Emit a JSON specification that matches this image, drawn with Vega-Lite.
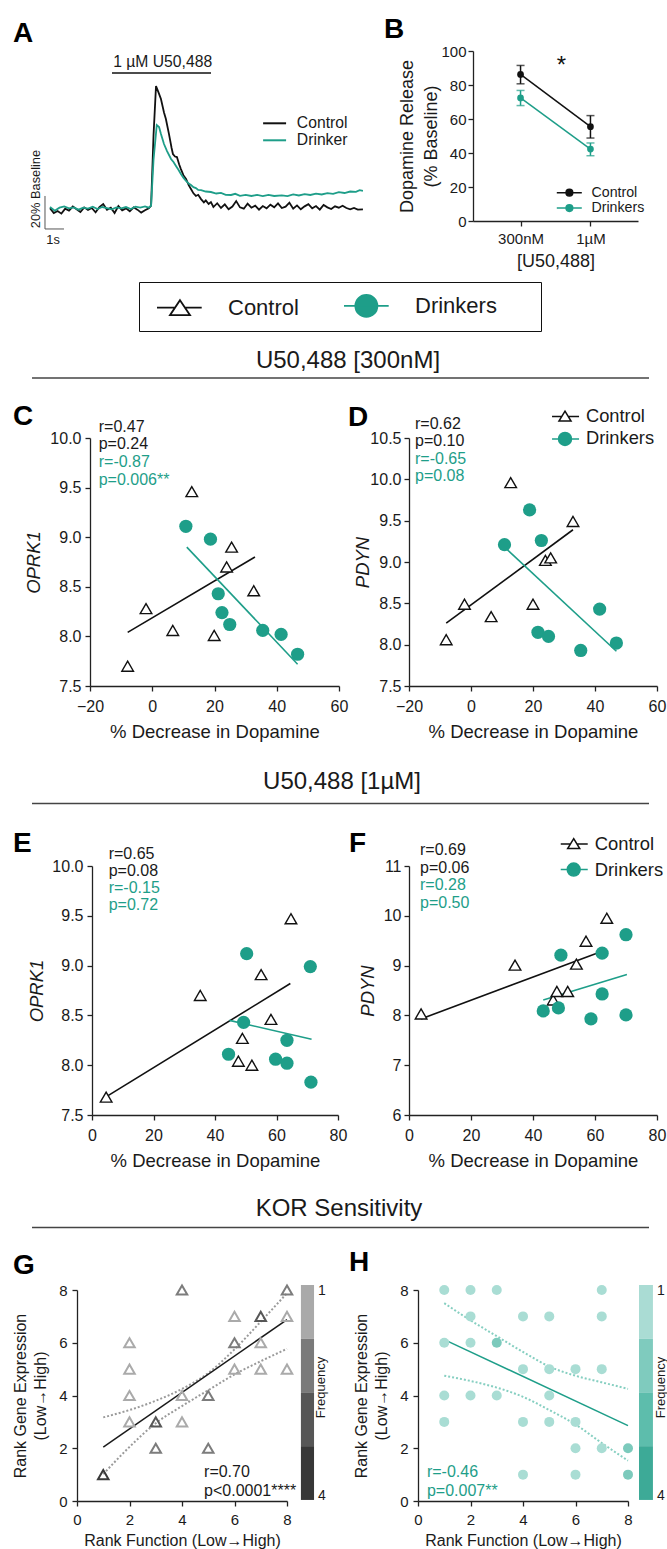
{
"$schema":"https://vega.github.io/schema/vega-lite/v6.json",
"background":"white",
"padding":{"left":12,"top":15,"right":0,"bottom":0},
"config":{
 "view":{"stroke":null},
 "font":"Liberation Sans",
 "axis":{"labelFont":"Liberation Sans","titleFont":"Liberation Sans","labelColor":"#1a1a1a","titleColor":"#1a1a1a","titleFontWeight":"normal","domainColor":"#222222","tickColor":"#222222","domainWidth":1.3,"tickWidth":1.3,"tickSize":5,"grid":false,"labelFlush":false,"labelOverlap":false},
 "legend":{"labelFont":"Liberation Sans","titleFont":"Liberation Sans"},
 "text":{"font":"Liberation Sans"}
},
"datasets":{
 "trace":[
  {"series":"Control","t":0,"v":100.5},{"series":"Control","t":0.2,"v":97.5},{"series":"Control","t":0.4,"v":98.8},{"series":"Control","t":0.6,"v":97.2},{"series":"Control","t":0.8,"v":100.2},{"series":"Control","t":1.0,"v":99.0},{"series":"Control","t":1.2,"v":101.5},{"series":"Control","t":1.4,"v":99.8},{"series":"Control","t":1.6,"v":98.2},{"series":"Control","t":1.8,"v":101.0},{"series":"Control","t":2.0,"v":99.4},{"series":"Control","t":2.2,"v":100.6},{"series":"Control","t":2.4,"v":98.0},{"series":"Control","t":2.6,"v":101.2},{"series":"Control","t":2.8,"v":103.0},{"series":"Control","t":3.0,"v":99.5},{"series":"Control","t":3.2,"v":100.8},{"series":"Control","t":3.4,"v":97.6},{"series":"Control","t":3.6,"v":101.8},{"series":"Control","t":3.8,"v":99.2},{"series":"Control","t":4.0,"v":100.4},{"series":"Control","t":4.2,"v":98.6},{"series":"Control","t":4.4,"v":101.0},{"series":"Control","t":4.6,"v":99.6},{"series":"Control","t":4.8,"v":97.8},{"series":"Control","t":5.0,"v":99.2},{"series":"Control","t":5.2,"v":100.4},
  {"series":"Control","t":5.32,"v":102},{"series":"Control","t":5.45,"v":145},{"series":"Control","t":5.58,"v":174.5},{"series":"Control","t":5.7,"v":171},{"series":"Control","t":5.84,"v":166.7},{"series":"Control","t":6.0,"v":158.5},{"series":"Control","t":6.1,"v":154.5},{"series":"Control","t":6.26,"v":145.5},{"series":"Control","t":6.4,"v":137},{"series":"Control","t":6.47,"v":133.3},{"series":"Control","t":6.58,"v":131.8},{"series":"Control","t":6.68,"v":131.5},{"series":"Control","t":6.8,"v":127},{"series":"Control","t":6.89,"v":124.2},{"series":"Control","t":7.02,"v":120.5},{"series":"Control","t":7.16,"v":118.2},{"series":"Control","t":7.3,"v":114.5},{"series":"Control","t":7.42,"v":112.1},{"series":"Control","t":7.55,"v":109.5},{"series":"Control","t":7.68,"v":107.9},{"series":"Control","t":7.8,"v":108.6},{"series":"Control","t":7.95,"v":106},{"series":"Control","t":8.1,"v":104.0},{"series":"Control","t":8.2,"v":105.2},{"series":"Control","t":8.35,"v":103.0},{"series":"Control","t":8.47,"v":104.2},
  {"series":"Control","t":8.6,"v":101.2},{"series":"Control","t":8.8,"v":103.5},{"series":"Control","t":9.0,"v":100.6},{"series":"Control","t":9.2,"v":102.8},{"series":"Control","t":9.4,"v":99.8},{"series":"Control","t":9.6,"v":101.5},{"series":"Control","t":9.8,"v":104.8},{"series":"Control","t":10.0,"v":101.0},{"series":"Control","t":10.2,"v":100.2},{"series":"Control","t":10.4,"v":103.2},{"series":"Control","t":10.6,"v":100.8},{"series":"Control","t":10.8,"v":102.0},{"series":"Control","t":11.0,"v":99.6},{"series":"Control","t":11.2,"v":101.8},{"series":"Control","t":11.4,"v":100.4},{"series":"Control","t":11.6,"v":102.6},{"series":"Control","t":11.8,"v":101.0},{"series":"Control","t":12.0,"v":103.4},{"series":"Control","t":12.2,"v":100.6},{"series":"Control","t":12.4,"v":101.4},{"series":"Control","t":12.6,"v":103.8},{"series":"Control","t":12.8,"v":100.2},{"series":"Control","t":13.0,"v":102.2},{"series":"Control","t":13.2,"v":99.8},{"series":"Control","t":13.4,"v":101.6},{"series":"Control","t":13.6,"v":102.9},{"series":"Control","t":13.8,"v":100.4},{"series":"Control","t":14.0,"v":101.8},{"series":"Control","t":14.2,"v":99.6},{"series":"Control","t":14.4,"v":102.4},{"series":"Control","t":14.6,"v":101.0},{"series":"Control","t":14.8,"v":100.0},{"series":"Control","t":15.0,"v":101.6},{"series":"Control","t":15.2,"v":100.8},{"series":"Control","t":15.4,"v":102.0},{"series":"Control","t":15.6,"v":100.6},{"series":"Control","t":15.8,"v":99.8},{"series":"Control","t":16.0,"v":100.6},{"series":"Control","t":16.2,"v":99.6},{"series":"Control","t":16.47,"v":99.8},
  {"series":"Drinker","t":0,"v":101.2},{"series":"Drinker","t":0.25,"v":99.0},{"series":"Drinker","t":0.5,"v":100.8},{"series":"Drinker","t":0.75,"v":101.6},{"series":"Drinker","t":1.0,"v":100.4},{"series":"Drinker","t":1.25,"v":101.0},{"series":"Drinker","t":1.5,"v":99.6},{"series":"Drinker","t":1.75,"v":100.8},{"series":"Drinker","t":2.0,"v":100.2},{"series":"Drinker","t":2.25,"v":101.4},{"series":"Drinker","t":2.5,"v":100.0},{"series":"Drinker","t":2.75,"v":101.2},{"series":"Drinker","t":3.0,"v":100.6},{"series":"Drinker","t":3.25,"v":99.8},{"series":"Drinker","t":3.5,"v":101.0},{"series":"Drinker","t":3.75,"v":100.4},{"series":"Drinker","t":4.0,"v":101.2},{"series":"Drinker","t":4.25,"v":100.0},{"series":"Drinker","t":4.5,"v":101.4},{"series":"Drinker","t":4.75,"v":100.8},{"series":"Drinker","t":5.0,"v":101.6},{"series":"Drinker","t":5.2,"v":100.8},
  {"series":"Drinker","t":5.32,"v":102},{"series":"Drinker","t":5.45,"v":130},{"series":"Drinker","t":5.62,"v":150.9},{"series":"Drinker","t":5.74,"v":149.7},{"series":"Drinker","t":5.84,"v":145.5},{"series":"Drinker","t":6.0,"v":139.4},{"series":"Drinker","t":6.16,"v":135.1},{"series":"Drinker","t":6.37,"v":130.3},{"series":"Drinker","t":6.5,"v":128.5},{"series":"Drinker","t":6.63,"v":126.1},{"series":"Drinker","t":6.76,"v":123.8},{"series":"Drinker","t":6.89,"v":121.2},{"series":"Drinker","t":7.02,"v":119.0},{"series":"Drinker","t":7.16,"v":117},{"series":"Drinker","t":7.3,"v":115.4},{"series":"Drinker","t":7.42,"v":114.5},{"series":"Drinker","t":7.55,"v":113.2},{"series":"Drinker","t":7.68,"v":112.7},{"series":"Drinker","t":7.8,"v":111.6},{"series":"Drinker","t":7.95,"v":111.5},{"series":"Drinker","t":8.2,"v":110.6},{"series":"Drinker","t":8.47,"v":110.3},{"series":"Drinker","t":8.75,"v":109.4},{"series":"Drinker","t":9.0,"v":109.8},{"series":"Drinker","t":9.25,"v":108.6},{"series":"Drinker","t":9.53,"v":108.5},{"series":"Drinker","t":9.75,"v":109.2},{"series":"Drinker","t":10.0,"v":108.0},{"series":"Drinker","t":10.3,"v":108.6},{"series":"Drinker","t":10.6,"v":107.9},{"series":"Drinker","t":10.9,"v":108.5},{"series":"Drinker","t":11.2,"v":107.8},{"series":"Drinker","t":11.5,"v":108.6},{"series":"Drinker","t":11.8,"v":107.9},{"series":"Drinker","t":12.2,"v":108.3},{"series":"Drinker","t":12.5,"v":107.8},{"series":"Drinker","t":12.8,"v":108.8},{"series":"Drinker","t":13.1,"v":108.2},{"series":"Drinker","t":13.4,"v":109.0},{"series":"Drinker","t":13.7,"v":108.5},{"series":"Drinker","t":14.0,"v":109.3},{"series":"Drinker","t":14.3,"v":108.8},{"series":"Drinker","t":14.6,"v":109.6},{"series":"Drinker","t":14.9,"v":109.2},{"series":"Drinker","t":15.2,"v":110.2},{"series":"Drinker","t":15.5,"v":109.7},{"series":"Drinker","t":15.8,"v":110.6},{"series":"Drinker","t":16.1,"v":110.4},{"series":"Drinker","t":16.3,"v":111.4},{"series":"Drinker","t":16.47,"v":111.0}
 ],
 "release":[
  {"group":"Control","dose":"300nM","mean":86.2,"lo":80.7,"hi":91.5},
  {"group":"Control","dose":"1µM","mean":55.5,"lo":48.8,"hi":62.0},
  {"group":"Drinkers","dose":"300nM","mean":72.4,"lo":67.9,"hi":76.8},
  {"group":"Drinkers","dose":"1µM","mean":42.3,"lo":38.4,"hi":45.9}
 ],
 "scatter":[
  {"panel":"C","group":"Control","x":-7.9,"y":7.70},{"panel":"C","group":"Control","x":-2.0,"y":8.28},{"panel":"C","group":"Control","x":6.6,"y":8.06},{"panel":"C","group":"Control","x":12.7,"y":9.46},{"panel":"C","group":"Control","x":19.9,"y":8.01},{"panel":"C","group":"Control","x":23.9,"y":8.70},{"panel":"C","group":"Control","x":25.5,"y":8.90},{"panel":"C","group":"Control","x":32.6,"y":8.46},
  {"panel":"C","group":"Drinkers","x":10.8,"y":9.11},{"panel":"C","group":"Drinkers","x":18.7,"y":8.98},{"panel":"C","group":"Drinkers","x":21.2,"y":8.43},{"panel":"C","group":"Drinkers","x":22.4,"y":8.24},{"panel":"C","group":"Drinkers","x":24.9,"y":8.12},{"panel":"C","group":"Drinkers","x":35.5,"y":8.06},{"panel":"C","group":"Drinkers","x":41.4,"y":8.02},{"panel":"C","group":"Drinkers","x":46.7,"y":7.82},
  {"panel":"D","group":"Control","x":-8.0,"y":8.06},{"panel":"D","group":"Control","x":-2.1,"y":8.49},{"panel":"D","group":"Control","x":6.5,"y":8.34},{"panel":"D","group":"Control","x":12.8,"y":9.96},{"panel":"D","group":"Control","x":20.0,"y":8.49},{"panel":"D","group":"Control","x":24.0,"y":9.02},{"panel":"D","group":"Control","x":25.7,"y":9.05},{"panel":"D","group":"Control","x":32.9,"y":9.49},
  {"panel":"D","group":"Drinkers","x":10.8,"y":9.21},{"panel":"D","group":"Drinkers","x":18.9,"y":9.63},{"panel":"D","group":"Drinkers","x":22.7,"y":9.26},{"panel":"D","group":"Drinkers","x":21.6,"y":8.15},{"panel":"D","group":"Drinkers","x":25.0,"y":8.10},{"panel":"D","group":"Drinkers","x":35.4,"y":7.93},{"panel":"D","group":"Drinkers","x":41.5,"y":8.43},{"panel":"D","group":"Drinkers","x":46.9,"y":8.02},
  {"panel":"E","group":"Control","x":4.6,"y":7.68},{"panel":"E","group":"Control","x":35.2,"y":8.70},{"panel":"E","group":"Control","x":47.6,"y":8.04},{"panel":"E","group":"Control","x":48.9,"y":8.27},{"panel":"E","group":"Control","x":52.0,"y":8.00},{"panel":"E","group":"Control","x":55.0,"y":8.91},{"panel":"E","group":"Control","x":58.2,"y":8.46},{"panel":"E","group":"Control","x":64.7,"y":9.47},
  {"panel":"E","group":"Drinkers","x":50.3,"y":9.12},{"panel":"E","group":"Drinkers","x":71.0,"y":8.99},{"panel":"E","group":"Drinkers","x":49.3,"y":8.43},{"panel":"E","group":"Drinkers","x":44.4,"y":8.11},{"panel":"E","group":"Drinkers","x":63.4,"y":8.25},{"panel":"E","group":"Drinkers","x":59.7,"y":8.06},{"panel":"E","group":"Drinkers","x":63.4,"y":8.02},{"panel":"E","group":"Drinkers","x":71.2,"y":7.83},
  {"panel":"F","group":"Control","x":3.9,"y":8.03},{"panel":"F","group":"Control","x":34.2,"y":9.01},{"panel":"F","group":"Control","x":46.5,"y":8.31},{"panel":"F","group":"Control","x":47.7,"y":8.48},{"panel":"F","group":"Control","x":51.2,"y":8.48},{"panel":"F","group":"Control","x":54.0,"y":9.03},{"panel":"F","group":"Control","x":57.1,"y":9.49},{"panel":"F","group":"Control","x":63.8,"y":9.95},
  {"panel":"F","group":"Drinkers","x":43.3,"y":8.09},{"panel":"F","group":"Drinkers","x":48.2,"y":8.15},{"panel":"F","group":"Drinkers","x":49.0,"y":9.21},{"panel":"F","group":"Drinkers","x":58.7,"y":7.93},{"panel":"F","group":"Drinkers","x":62.3,"y":9.25},{"panel":"F","group":"Drinkers","x":62.3,"y":8.43},{"panel":"F","group":"Drinkers","x":70.0,"y":9.62},{"panel":"F","group":"Drinkers","x":70.0,"y":8.01}
 ],
 "fits":[
  {"panel":"C","group":"Control","x":-7.9,"y":8.04},{"panel":"C","group":"Control","x":33.0,"y":8.80},
  {"panel":"C","group":"Drinkers","x":11.1,"y":8.90},{"panel":"C","group":"Drinkers","x":46.7,"y":7.72},
  {"panel":"D","group":"Control","x":-8.0,"y":8.26},{"panel":"D","group":"Control","x":32.9,"y":9.39},
  {"panel":"D","group":"Drinkers","x":10.8,"y":9.18},{"panel":"D","group":"Drinkers","x":46.9,"y":7.92},
  {"panel":"E","group":"Control","x":3.9,"y":7.67},{"panel":"E","group":"Control","x":64.5,"y":8.82},
  {"panel":"E","group":"Drinkers","x":44.7,"y":8.45},{"panel":"E","group":"Drinkers","x":71.4,"y":8.26},
  {"panel":"F","group":"Control","x":3.9,"y":7.93},{"panel":"F","group":"Control","x":60.6,"y":9.25},
  {"panel":"F","group":"Drinkers","x":43.3,"y":8.31},{"panel":"F","group":"Drinkers","x":70.3,"y":8.82},
  {"panel":"G","group":"Control","x":1,"y":2.04},{"panel":"G","group":"Control","x":8,"y":6.88},
  {"panel":"H","group":"Drinkers","x":1,"y":6.12},{"panel":"H","group":"Drinkers","x":8,"y":2.86}
 ],
 "ci":[
  {"panel":"G","bound":"upper","x":1,"y":3.17},{"panel":"G","bound":"upper","x":2,"y":3.45},{"panel":"G","bound":"upper","x":3,"y":3.8},{"panel":"G","bound":"upper","x":4,"y":4.25},{"panel":"G","bound":"upper","x":5,"y":4.85},{"panel":"G","bound":"upper","x":6,"y":5.75},{"panel":"G","bound":"upper","x":7,"y":6.8},{"panel":"G","bound":"upper","x":8,"y":7.88},
  {"panel":"G","bound":"lower","x":1,"y":1.02},{"panel":"G","bound":"lower","x":2,"y":2.05},{"panel":"G","bound":"lower","x":3,"y":2.95},{"panel":"G","bound":"lower","x":4,"y":3.6},{"panel":"G","bound":"lower","x":5,"y":4.2},{"panel":"G","bound":"lower","x":6,"y":4.8},{"panel":"G","bound":"lower","x":7,"y":5.3},{"panel":"G","bound":"lower","x":8,"y":5.77},
  {"panel":"H","bound":"upper","x":1,"y":7.5},{"panel":"H","bound":"upper","x":2,"y":6.85},{"panel":"H","bound":"upper","x":3,"y":6.25},{"panel":"H","bound":"upper","x":4,"y":5.65},{"panel":"H","bound":"upper","x":5,"y":5.1},{"panel":"H","bound":"upper","x":6,"y":4.75},{"panel":"H","bound":"upper","x":7,"y":4.5},{"panel":"H","bound":"upper","x":8,"y":4.25},
  {"panel":"H","bound":"lower","x":1,"y":4.75},{"panel":"H","bound":"lower","x":2,"y":4.55},{"panel":"H","bound":"lower","x":3,"y":4.3},{"panel":"H","bound":"lower","x":4,"y":3.95},{"panel":"H","bound":"lower","x":5,"y":3.45},{"panel":"H","bound":"lower","x":6,"y":2.9},{"panel":"H","bound":"lower","x":7,"y":2.2},{"panel":"H","bound":"lower","x":8,"y":1.53}
 ],
 "rank":[
  {"panel":"G","x":1,"y":1,"freq":4},{"panel":"G","x":2,"y":3,"freq":1},{"panel":"G","x":2,"y":4,"freq":1},{"panel":"G","x":2,"y":5,"freq":1},{"panel":"G","x":2,"y":6,"freq":1},{"panel":"G","x":3,"y":2,"freq":2},{"panel":"G","x":3,"y":3,"freq":3},{"panel":"G","x":4,"y":3,"freq":1},{"panel":"G","x":4,"y":4,"freq":1},{"panel":"G","x":4,"y":8,"freq":2},{"panel":"G","x":5,"y":2,"freq":2},{"panel":"G","x":5,"y":4,"freq":2},{"panel":"G","x":6,"y":5,"freq":1},{"panel":"G","x":6,"y":6,"freq":2},{"panel":"G","x":6,"y":7,"freq":1},{"panel":"G","x":7,"y":5,"freq":1},{"panel":"G","x":7,"y":6,"freq":1},{"panel":"G","x":7,"y":7,"freq":3},{"panel":"G","x":8,"y":5,"freq":1},{"panel":"G","x":8,"y":7,"freq":1},{"panel":"G","x":8,"y":8,"freq":2},
  {"panel":"H","x":1,"y":8,"freq":1},{"panel":"H","x":2,"y":8,"freq":1},{"panel":"H","x":3,"y":8,"freq":1},{"panel":"H","x":7,"y":8,"freq":1},
  {"panel":"H","x":2,"y":7,"freq":1},{"panel":"H","x":4,"y":7,"freq":1},{"panel":"H","x":5,"y":7,"freq":1},{"panel":"H","x":7,"y":7,"freq":1},
  {"panel":"H","x":1,"y":6,"freq":1},{"panel":"H","x":2,"y":6,"freq":1},{"panel":"H","x":3,"y":6,"freq":2},
  {"panel":"H","x":4,"y":5,"freq":1},{"panel":"H","x":5,"y":5,"freq":1},{"panel":"H","x":6,"y":5,"freq":1},{"panel":"H","x":7,"y":5,"freq":1},
  {"panel":"H","x":1,"y":4,"freq":1},{"panel":"H","x":2,"y":4,"freq":1},{"panel":"H","x":3,"y":4,"freq":1},{"panel":"H","x":5,"y":4,"freq":1},
  {"panel":"H","x":1,"y":3,"freq":1},{"panel":"H","x":4,"y":3,"freq":1},{"panel":"H","x":5,"y":3,"freq":1},{"panel":"H","x":6,"y":3,"freq":1},
  {"panel":"H","x":6,"y":2,"freq":1},{"panel":"H","x":7,"y":2,"freq":1},{"panel":"H","x":8,"y":2,"freq":2},
  {"panel":"H","x":4,"y":1,"freq":1},{"panel":"H","x":6,"y":1,"freq":1},{"panel":"H","x":8,"y":1,"freq":2}
 ],
 "groups":[{"group":"Control"},{"group":"Drinkers"}]
},
"spacing":16,
"resolve":{"scale":{"x":"independent","y":"independent","color":"independent","shape":"independent","fill":"independent","stroke":"independent"},"legend":{"color":"independent","shape":"independent","fill":"independent","stroke":"independent"}},
"vconcat":[
 {
  "hconcat":[
   {"width":19,"height":1,"data":{"values":[{}]},"mark":"text","encoding":{"text":{"value":""}}},
   {
    "hconcat":[
     {
      "width":349,"height":170,
      "layer":[
       {"data":{"name":"trace"},"mark":{"type":"line","strokeWidth":1.8},
        "encoding":{
         "x":{"field":"t","type":"quantitative","scale":{"domain":[-0.947,17.421],"nice":false,"zero":false},"axis":null},
         "y":{"field":"v","type":"quantitative","scale":{"domain":[92.73,195.76],"nice":false,"zero":false},"axis":null},
         "color":{"field":"series","type":"nominal","scale":{"domain":["Control","Drinker"],"range":["#111111","#1e9e89"]},
         "legend":{"title":null,"orient":"none","legendX":234.75,"legendY":64.45,"symbolType":"M-2,0H2","symbolSize":132,"symbolStrokeWidth":2,"labelFontSize":15.7,"labelColor":"#1a1a1a","labelOffset":14.4,"rowPadding":0,"padding":0}}}},
       {"data":{"values":[{}]},"mark":{"type":"rule","color":"#111111","strokeWidth":1.5},"encoding":{"x":{"datum":3.263,"type":"quantitative"},"x2":{"datum":8.474},"y":{"datum":182.4,"type":"quantitative"}}},
       {"data":{"values":[{}]},"mark":{"type":"rule","color":"#555555","strokeWidth":1},"encoding":{"x":{"datum":-0.263,"type":"quantitative"},"y":{"datum":87.9,"type":"quantitative"},"y2":{"datum":107.9}}},
       {"data":{"values":[{}]},"mark":{"type":"rule","color":"#555555","strokeWidth":1},"encoding":{"x":{"datum":-0.263,"type":"quantitative"},"x2":{"datum":0.737},"y":{"datum":87.9,"type":"quantitative"}}},
       {"data":{"values":[{}]},"mark":{"type":"text","fontSize":15.7,"color":"#1a1a1a","baseline":"middle"},"encoding":{"x":{"datum":5.93,"type":"quantitative"},"y":{"datum":189.3,"type":"quantitative"},"text":{"value":"1 µM U50,488"}}},
       {"data":{"values":[{}]},"mark":{"type":"text","fontSize":12.8,"color":"#1a1a1a","baseline":"middle","angle":270},"encoding":{"x":{"datum":-0.737,"type":"quantitative"},"y":{"datum":112.1,"type":"quantitative"},"text":{"value":"20% Baseline"}}},
       {"data":{"values":[{}]},"mark":{"type":"text","fontSize":12.8,"color":"#1a1a1a","baseline":"middle"},"encoding":{"x":{"datum":0.16,"type":"quantitative"},"y":{"datum":81.2,"type":"quantitative"},"text":{"value":"1s"}}},
       {"data":{"values":[{}]},"mark":{"type":"text","fontSize":28,"fontWeight":"bold","color":"#000000","align":"left","baseline":"middle"},"encoding":{"x":{"datum":-1.947,"type":"quantitative"},"y":{"datum":205.99,"type":"quantitative"},"text":{"value":"A"}}},
       {"data":{"values":[{}]},"mark":{"type":"text","fontSize":28,"fontWeight":"bold","color":"#000000","align":"left","baseline":"middle"},"encoding":{"x":{"datum":17.58,"type":"quantitative"},"y":{"datum":208.72,"type":"quantitative"},"text":{"value":"B"}}},
       {"data":{"name":"groups"},"transform":[{"filter":"false"}],"mark":{"type":"point","filled":true},
        "encoding":{
         "shape":{"field":"group","type":"nominal","scale":{"domain":["Control","Drinkers"],"range":["M-0.44,0H1M1.8,0H3.136M1.4,-0.6L2.2,0.6L0.6,0.6Z","M-0.44,0H3.136M0.47,0A0.88,0.88 0 1,0 2.23,0A0.88,0.88 0 1,0 0.47,0Z"]},
          "legend":{"title":"\u00a0","titleOrient":"right","titleFontSize":22,"titlePadding":34,"orient":"none","legendX":107,"legendY":231,"direction":"horizontal","labelFontSize":22,"labelColor":"#1a1a1a","labelOffset":52,"columnPadding":37,"symbolSize":625,"symbolStrokeWidth":1.8,"symbolOpacity":1,"padding":10,"strokeColor":"#111111"}},
         "fill":{"field":"group","type":"nominal","scale":{"domain":["Control","Drinkers"],"range":["#ffffff","#1e9e89"]},
          "legend":{"title":"\u00a0","titleOrient":"right","titleFontSize":22,"titlePadding":34,"orient":"none","legendX":107,"legendY":231,"direction":"horizontal","labelFontSize":22,"labelColor":"#1a1a1a","labelOffset":52,"columnPadding":37,"symbolSize":625,"symbolStrokeWidth":1.8,"symbolOpacity":1,"padding":10,"strokeColor":"#111111"}},
         "stroke":{"field":"group","type":"nominal","scale":{"domain":["Control","Drinkers"],"range":["#111111","#1e9e89"]},
          "legend":{"title":"\u00a0","titleOrient":"right","titleFontSize":22,"titlePadding":34,"orient":"none","legendX":107,"legendY":231,"direction":"horizontal","labelFontSize":22,"labelColor":"#1a1a1a","labelOffset":52,"columnPadding":37,"symbolSize":625,"symbolStrokeWidth":1.8,"symbolOpacity":1,"padding":10,"strokeColor":"#111111"}}
        }}
      ]
     },
     {
      "width":165,"height":170,
      "layer":[
       {
        "data":{"name":"release"},
        "encoding":{
         "x":{"field":"dose","type":"ordinal","sort":["300nM","1µM"],"scale":{"type":"point","padding":0.68},"axis":{"title":"[U50,488]","labelAngle":0,"labelFontSize":15,"titleFontSize":18,"labelPadding":5,"titlePadding":6}},
         "y":{"field":"mean","type":"quantitative","scale":{"domain":[0,100],"nice":false},"axis":{"values":[0,20,40,60,80,100],"labelOverlap":false,"title":["Dopamine Release","(% Baseline)"],"labelFontSize":15,"titleFontSize":18,"titleLineHeight":24,"labelPadding":2,"titlePadding":0}},
         "color":{"field":"group","type":"nominal","scale":{"domain":["Drinkers","Control"],"range":["#1e9e89","#111111"]},"legend":null}
        },
        "layer":[
         {"mark":{"type":"rule","strokeWidth":1.5},"encoding":{"y":{"field":"lo","type":"quantitative","axis":{"values":[0,20,40,60,80,100],"labelOverlap":false,"title":["Dopamine Release","(% Baseline)"],"labelFontSize":15,"titleFontSize":18,"titleLineHeight":24,"labelPadding":2,"titlePadding":0}},"y2":{"field":"hi"}}},
         {"mark":{"type":"tick","size":8,"thickness":1.5},"encoding":{"y":{"field":"lo","type":"quantitative","axis":{"values":[0,20,40,60,80,100],"labelOverlap":false,"title":["Dopamine Release","(% Baseline)"],"labelFontSize":15,"titleFontSize":18,"titleLineHeight":24,"labelPadding":2,"titlePadding":0}}}},
         {"mark":{"type":"tick","size":8,"thickness":1.5},"encoding":{"y":{"field":"hi","type":"quantitative","axis":{"values":[0,20,40,60,80,100],"labelOverlap":false,"title":["Dopamine Release","(% Baseline)"],"labelFontSize":15,"titleFontSize":18,"titleLineHeight":24,"labelPadding":2,"titlePadding":0}}}},
         {"mark":{"type":"line","strokeWidth":1.5}},
         {"mark":{"type":"point","filled":true,"opacity":1,"size":45}}
        ]
       },
       {"data":{"values":[{}]},"mark":{"type":"text","fontSize":24,"xOffset":41,"baseline":"middle","color":"#111111"},"encoding":{"x":{"datum":"300nM","type":"ordinal"},"y":{"datum":91,"type":"quantitative","axis":{"values":[0,20,40,60,80,100],"labelOverlap":false,"title":["Dopamine Release","(% Baseline)"],"labelFontSize":15,"titleFontSize":18,"titleLineHeight":24,"labelPadding":2,"titlePadding":0}},"text":{"value":"*"}}},
       {"data":{"name":"groups"},"transform":[{"filter":"false"}],"mark":{"type":"point","filled":true},
        "encoding":{
         "shape":{"field":"group","type":"nominal","scale":{"domain":["Control","Drinkers"],"range":["M-2.52,0H2.48M-0.67,0A0.67,0.67 0 1,0 0.67,0A0.67,0.67 0 1,0 -0.67,0Z","M-2.52,0H2.48M-0.67,0A0.67,0.67 0 1,0 0.67,0A0.67,0.67 0 1,0 -0.67,0Z"]},
          "legend":{"title":null,"orient":"none","legendX":89.3,"legendY":134.6,"labelFontSize":14.2,"labelColor":"#1a1a1a","labelOffset":15,"symbolSize":100,"symbolStrokeWidth":1.5,"symbolOpacity":1,"rowPadding":0.4,"padding":0}},
         "fill":{"field":"group","type":"nominal","scale":{"domain":["Control","Drinkers"],"range":["#111111","#1e9e89"]},
          "legend":{"title":null,"orient":"none","legendX":89.3,"legendY":134.6,"labelFontSize":14.2,"labelColor":"#1a1a1a","labelOffset":15,"symbolSize":100,"symbolStrokeWidth":1.5,"symbolOpacity":1,"rowPadding":0.4,"padding":0}},
         "stroke":{"field":"group","type":"nominal","scale":{"domain":["Control","Drinkers"],"range":["#111111","#1e9e89"]},
          "legend":{"title":null,"orient":"none","legendX":89.3,"legendY":134.6,"labelFontSize":14.2,"labelColor":"#1a1a1a","labelOffset":15,"symbolSize":100,"symbolStrokeWidth":1.5,"symbolOpacity":1,"rowPadding":0.4,"padding":0}}
        }}
      ]
     }
    ],
    "spacing":92,"bounds":"flush",
    "resolve":{"scale":{"x":"independent","y":"independent","color":"independent","shape":"independent","fill":"independent","stroke":"independent"},"legend":{"color":"independent","shape":"independent","fill":"independent","stroke":"independent"}}
   }
  ],
  "spacing":0,"bounds":"flush",
  "resolve":{"scale":{"x":"independent","y":"independent","color":"independent","shape":"independent","fill":"independent","stroke":"independent"},"legend":{"color":"independent","shape":"independent","fill":"independent","stroke":"independent"}}
 },
 {
  "width":636,"height":36.8,
  "layer":[
   {"data":{"values":[{"label":"U50,488 [300nM]"}]},"mark":{"type":"text","fontSize":24,"color":"#1a1a1a","baseline":"middle"},"encoding":{"x":{"datum":0.5267,"type":"quantitative","scale":{"domain":[0,1]},"axis":null},"y":{"datum":0.682,"type":"quantitative","scale":{"domain":[0,1]},"axis":null},"text":{"field":"label"}}},
   {"data":{"values":[{}]},"mark":{"type":"rule","color":"#444444","strokeWidth":1.5},"encoding":{"x":{"datum":0.0299,"type":"quantitative","scale":{"domain":[0,1]},"axis":null},"x2":{"datum":1},"y":{"datum":0.2147,"type":"quantitative","scale":{"domain":[0,1]},"axis":null}}}
  ]
 },
 {
  "hconcat":[
   {"width":77,"height":1,"data":{"values":[{}]},"mark":"text","encoding":{"text":{"value":""}}},
   {
    "hconcat":[
     {
      "width":249,"height":248,
      "layer":[
       {
        "encoding":{
         "x":{"field":"x","type":"quantitative","scale":{"domain":[-20,60],"nice":false,"zero":false},"axis":{"values":[-20,0,20,40,60],"title":"% Decrease in Dopamine","titleFontSize":18.5,"labelFontSize":16,"labelPadding":7,"titlePadding":8}},
         "y":{"field":"y","type":"quantitative","scale":{"domain":[7.5,10],"nice":false,"zero":false},"axis":{"values":[7.5,8,8.5,9,9.5,10],"format":".1f","title":"OPRK1","titleFontStyle":"italic","titleFontSize":18.5,"labelFontSize":16,"labelPadding":4,"titlePadding":6}}
        },
        "layer":[
         {"data":{"name":"fits"},"transform":[{"filter":"datum.panel=='C'"}],"mark":{"type":"line","strokeWidth":1.6},"encoding":{"color":{"field":"group","type":"nominal","scale":{"domain":["Drinkers","Control"],"range":["#1e9e89","#111111"]},"legend":null}}},
         {"data":{"name":"scatter"},"transform":[{"filter":"datum.panel=='C' && datum.group=='Control'"}],"mark":{"type":"point","shape":"triangle-up","size":135,"filled":true,"fill":"#ffffff","stroke":"#111111","strokeWidth":1.4,"opacity":1}},
         {"data":{"name":"scatter"},"transform":[{"filter":"datum.panel=='C' && datum.group=='Drinkers'"}],"mark":{"type":"point","shape":"circle","size":175,"filled":true,"color":"#1e9e89","opacity":1}}
        ]
       },
       {"data":{"values":[{}]},"mark":{"type":"text","align":"left","baseline":"middle","fontSize":16,"lineHeight":17.5,"color":"#1a1a1a"},"encoding":{"x":{"datum":-17.2,"type":"quantitative"},"y":{"datum":10.111,"type":"quantitative"},"text":{"value":["r=0.47","p=0.24"]}}},
       {"data":{"values":[{}]},"mark":{"type":"text","align":"left","baseline":"middle","fontSize":16,"lineHeight":17.5,"color":"#1e9e89"},"encoding":{"x":{"datum":-17.2,"type":"quantitative"},"y":{"datum":9.758,"type":"quantitative"},"text":{"value":["r=-0.87","p=0.006**"]}}},
       {"data":{"values":[{}]},"mark":{"type":"text","align":"left","baseline":"middle","fontSize":28,"fontWeight":"bold","color":"#000000"},"encoding":{"x":{"datum":-44.739,"type":"quantitative"},"y":{"datum":10.2157,"type":"quantitative"},"text":{"value":"C"}}}
      ]
     },
     {
      "width":248,"height":248,
      "layer":[
       {
        "encoding":{
         "x":{"field":"x","type":"quantitative","scale":{"domain":[-20,60],"nice":false,"zero":false},"axis":{"values":[-20,0,20,40,60],"title":"% Decrease in Dopamine","titleFontSize":18.5,"labelFontSize":16,"labelPadding":7,"titlePadding":8}},
         "y":{"field":"y","type":"quantitative","scale":{"domain":[7.5,10.5],"nice":false,"zero":false},"axis":{"values":[7.5,8,8.5,9,9.5,10,10.5],"format":".1f","title":"PDYN","titleFontStyle":"italic","titleFontSize":18.5,"labelFontSize":16,"labelPadding":3,"titlePadding":-3}}
        },
        "layer":[
         {"data":{"name":"fits"},"transform":[{"filter":"datum.panel=='D'"}],"mark":{"type":"line","strokeWidth":1.6},"encoding":{"color":{"field":"group","type":"nominal","scale":{"domain":["Drinkers","Control"],"range":["#1e9e89","#111111"]},"legend":null}}},
         {"data":{"name":"scatter"},"transform":[{"filter":"datum.panel=='D' && datum.group=='Control'"}],"mark":{"type":"point","shape":"triangle-up","size":135,"filled":true,"fill":"#ffffff","stroke":"#111111","strokeWidth":1.4,"opacity":1}},
         {"data":{"name":"scatter"},"transform":[{"filter":"datum.panel=='D' && datum.group=='Drinkers'"}],"mark":{"type":"point","shape":"circle","size":175,"filled":true,"color":"#1e9e89","opacity":1}}
        ]
       },
       {"data":{"values":[{}]},"mark":{"type":"text","align":"left","baseline":"middle","fontSize":16,"lineHeight":17,"color":"#1a1a1a"},"encoding":{"x":{"datum":-18.06,"type":"quantitative"},"y":{"datum":10.6657,"type":"quantitative"},"text":{"value":["r=0.62","p=0.10"]}}},
       {"data":{"values":[{}]},"mark":{"type":"text","align":"left","baseline":"middle","fontSize":16,"lineHeight":17,"color":"#1e9e89"},"encoding":{"x":{"datum":-18.06,"type":"quantitative"},"y":{"datum":10.2496,"type":"quantitative"},"text":{"value":["r=-0.65","p=0.08"]}}},
       {"data":{"values":[{}]},"mark":{"type":"text","align":"left","baseline":"middle","fontSize":28,"fontWeight":"bold","color":"#000000"},"encoding":{"x":{"datum":-39.7,"type":"quantitative"},"y":{"datum":10.7468,"type":"quantitative"},"text":{"value":"D"}}},
       {"data":{"name":"groups"},"transform":[{"filter":"false"}],"mark":{"type":"point","filled":true},
        "encoding":{
         "shape":{"field":"group","type":"nominal","scale":{"domain":["Control","Drinkers"],"range":["M-1.44,0H-0.365M0.365,0H1.56M0,-0.6L0.67,0.5L-0.67,0.5Z","M-1.44,0H1.56M-0.72,0A0.72,0.72 0 1,0 0.72,0A0.72,0.72 0 1,0 -0.72,0Z"]},
          "legend":{"title":null,"orient":"none","legendX":146,"legendY":-31.5,"direction":"vertical","labelFontSize":18.3,"labelColor":"#1a1a1a","labelOffset":11,"symbolSize":324,"symbolStrokeWidth":1.5,"symbolOpacity":1,"rowPadding":3.4,"padding":0}},
         "fill":{"field":"group","type":"nominal","scale":{"domain":["Control","Drinkers"],"range":["#ffffff","#1e9e89"]},
          "legend":{"title":null,"orient":"none","legendX":146,"legendY":-31.5,"direction":"vertical","labelFontSize":18.3,"labelColor":"#1a1a1a","labelOffset":11,"symbolSize":324,"symbolStrokeWidth":1.5,"symbolOpacity":1,"rowPadding":3.4,"padding":0}},
         "stroke":{"field":"group","type":"nominal","scale":{"domain":["Control","Drinkers"],"range":["#111111","#1e9e89"]},
          "legend":{"title":null,"orient":"none","legendX":146,"legendY":-31.5,"direction":"vertical","labelFontSize":18.3,"labelColor":"#1a1a1a","labelOffset":11,"symbolSize":324,"symbolStrokeWidth":1.5,"symbolOpacity":1,"rowPadding":3.4,"padding":0}}
        }}
      ]
     }
    ],
    "spacing":70,"bounds":"flush",
    "resolve":{"scale":{"x":"independent","y":"independent","color":"independent","shape":"independent","fill":"independent","stroke":"independent"},"legend":{"color":"independent","shape":"independent","fill":"independent","stroke":"independent"}}
   }
  ],
  "spacing":0,"bounds":"flush",
  "resolve":{"scale":{"x":"independent","y":"independent","color":"independent","shape":"independent","fill":"independent","stroke":"independent"},"legend":{"color":"independent","shape":"independent","fill":"independent","stroke":"independent"}}
 },
 {
  "width":636,"height":55.4,
  "layer":[
   {"data":{"values":[{"label":"U50,488 [1µM]"}]},"mark":{"type":"text","fontSize":24,"color":"#1a1a1a","baseline":"middle"},"encoding":{"x":{"datum":0.5173,"type":"quantitative","scale":{"domain":[0,1]},"axis":null},"y":{"datum":0.55,"type":"quantitative","scale":{"domain":[0,1]},"axis":null},"text":{"field":"label"}}},
   {"data":{"values":[{}]},"mark":{"type":"rule","color":"#444444","strokeWidth":1.5},"encoding":{"x":{"datum":0.0299,"type":"quantitative","scale":{"domain":[0,1]},"axis":null},"x2":{"datum":1},"y":{"datum":0.16,"type":"quantitative","scale":{"domain":[0,1]},"axis":null}}}
  ]
 },
 {
  "hconcat":[
   {"width":79,"height":1,"data":{"values":[{}]},"mark":"text","encoding":{"text":{"value":""}}},
   {
    "hconcat":[
     {
      "width":246,"height":249,
      "layer":[
       {
        "encoding":{
         "x":{"field":"x","type":"quantitative","scale":{"domain":[0,80],"nice":false,"zero":false},"axis":{"values":[0,20,40,60,80],"title":"% Decrease in Dopamine","titleFontSize":18.5,"labelFontSize":16,"labelPadding":7,"titlePadding":8}},
         "y":{"field":"y","type":"quantitative","scale":{"domain":[7.5,10],"nice":false,"zero":false},"axis":{"values":[7.5,8,8.5,9,9.5,10],"format":".1f","title":"OPRK1","titleFontStyle":"italic","titleFontSize":18.5,"labelFontSize":16,"labelPadding":4,"titlePadding":5}}
        },
        "layer":[
         {"data":{"name":"fits"},"transform":[{"filter":"datum.panel=='E'"}],"mark":{"type":"line","strokeWidth":1.6},"encoding":{"color":{"field":"group","type":"nominal","scale":{"domain":["Drinkers","Control"],"range":["#1e9e89","#111111"]},"legend":null}}},
         {"data":{"name":"scatter"},"transform":[{"filter":"datum.panel=='E' && datum.group=='Control'"}],"mark":{"type":"point","shape":"triangle-up","size":135,"filled":true,"fill":"#ffffff","stroke":"#111111","strokeWidth":1.4,"opacity":1}},
         {"data":{"name":"scatter"},"transform":[{"filter":"datum.panel=='E' && datum.group=='Drinkers'"}],"mark":{"type":"point","shape":"circle","size":175,"filled":true,"color":"#1e9e89","opacity":1}}
        ]
       },
       {"data":{"values":[{}]},"mark":{"type":"text","align":"left","baseline":"middle","fontSize":16,"lineHeight":17.2,"color":"#1a1a1a"},"encoding":{"x":{"datum":5.43,"type":"quantitative"},"y":{"datum":10.1235,"type":"quantitative"},"text":{"value":["r=0.65","p=0.08"]}}},
       {"data":{"values":[{}]},"mark":{"type":"text","align":"left","baseline":"middle","fontSize":16,"lineHeight":17.2,"color":"#1e9e89"},"encoding":{"x":{"datum":5.43,"type":"quantitative"},"y":{"datum":9.7791,"type":"quantitative"},"text":{"value":["r=-0.15","p=0.72"]}}},
       {"data":{"values":[{}]},"mark":{"type":"text","align":"left","baseline":"middle","fontSize":28,"fontWeight":"bold","color":"#000000"},"encoding":{"x":{"datum":-25.691,"type":"quantitative"},"y":{"datum":10.2249,"type":"quantitative"},"text":{"value":"E"}}}
      ]
     },
     {
      "width":248,"height":249,
      "layer":[
       {
        "encoding":{
         "x":{"field":"x","type":"quantitative","scale":{"domain":[0,80],"nice":false,"zero":false},"axis":{"values":[0,20,40,60,80],"title":"% Decrease in Dopamine","titleFontSize":18.5,"labelFontSize":16,"labelPadding":7,"titlePadding":8}},
         "y":{"field":"y","type":"quantitative","scale":{"domain":[6,11],"nice":false,"zero":false},"axis":{"values":[6,7,8,9,10,11],"format":"d","title":"PDYN","titleFontStyle":"italic","titleFontSize":18.5,"labelFontSize":16,"labelPadding":3,"titlePadding":6}}
        },
        "layer":[
         {"data":{"name":"fits"},"transform":[{"filter":"datum.panel=='F'"}],"mark":{"type":"line","strokeWidth":1.6},"encoding":{"color":{"field":"group","type":"nominal","scale":{"domain":["Drinkers","Control"],"range":["#1e9e89","#111111"]},"legend":null}}},
         {"data":{"name":"scatter"},"transform":[{"filter":"datum.panel=='F' && datum.group=='Control'"}],"mark":{"type":"point","shape":"triangle-up","size":135,"filled":true,"fill":"#ffffff","stroke":"#111111","strokeWidth":1.4,"opacity":1}},
         {"data":{"name":"scatter"},"transform":[{"filter":"datum.panel=='F' && datum.group=='Drinkers'"}],"mark":{"type":"point","shape":"circle","size":175,"filled":true,"color":"#1e9e89","opacity":1}}
        ]
       },
       {"data":{"values":[{}]},"mark":{"type":"text","align":"left","baseline":"middle","fontSize":16,"lineHeight":17.3,"color":"#1a1a1a"},"encoding":{"x":{"datum":3.55,"type":"quantitative"},"y":{"datum":11.3153,"type":"quantitative"},"text":{"value":["r=0.69","p=0.06"]}}},
       {"data":{"values":[{}]},"mark":{"type":"text","align":"left","baseline":"middle","fontSize":16,"lineHeight":17.3,"color":"#1e9e89"},"encoding":{"x":{"datum":3.55,"type":"quantitative"},"y":{"datum":10.6124,"type":"quantitative"},"text":{"value":["r=0.28","p=0.50"]}}},
       {"data":{"values":[{}]},"mark":{"type":"text","align":"left","baseline":"middle","fontSize":28,"fontWeight":"bold","color":"#000000"},"encoding":{"x":{"datum":-19.35,"type":"quantitative"},"y":{"datum":11.4498,"type":"quantitative"},"text":{"value":"F"}}},
       {"data":{"name":"groups"},"transform":[{"filter":"false"}],"mark":{"type":"point","filled":true},
        "encoding":{
         "shape":{"field":"group","type":"nominal","scale":{"domain":["Control","Drinkers"],"range":["M-1.44,0H-0.365M0.365,0H1.56M0,-0.6L0.67,0.5L-0.67,0.5Z","M-1.44,0H1.56M-0.72,0A0.72,0.72 0 1,0 0.72,0A0.72,0.72 0 1,0 -0.72,0Z"]},
          "legend":{"title":null,"orient":"none","legendX":154.7,"legendY":-32,"direction":"vertical","labelFontSize":18.4,"labelColor":"#1a1a1a","labelOffset":11,"symbolSize":324,"symbolStrokeWidth":1.5,"symbolOpacity":1,"rowPadding":5.6,"padding":0}},
         "fill":{"field":"group","type":"nominal","scale":{"domain":["Control","Drinkers"],"range":["#ffffff","#1e9e89"]},
          "legend":{"title":null,"orient":"none","legendX":154.7,"legendY":-32,"direction":"vertical","labelFontSize":18.4,"labelColor":"#1a1a1a","labelOffset":11,"symbolSize":324,"symbolStrokeWidth":1.5,"symbolOpacity":1,"rowPadding":5.6,"padding":0}},
         "stroke":{"field":"group","type":"nominal","scale":{"domain":["Control","Drinkers"],"range":["#111111","#1e9e89"]},
          "legend":{"title":null,"orient":"none","legendX":154.7,"legendY":-32,"direction":"vertical","labelFontSize":18.4,"labelColor":"#1a1a1a","labelOffset":11,"symbolSize":324,"symbolStrokeWidth":1.5,"symbolOpacity":1,"rowPadding":5.6,"padding":0}}
        }}
      ]
     }
    ],
    "spacing":71,"bounds":"flush",
    "resolve":{"scale":{"x":"independent","y":"independent","color":"independent","shape":"independent","fill":"independent","stroke":"independent"},"legend":{"color":"independent","shape":"independent","fill":"independent","stroke":"independent"}}
   }
  ],
  "spacing":0,"bounds":"flush",
  "resolve":{"scale":{"x":"independent","y":"independent","color":"independent","shape":"independent","fill":"independent","stroke":"independent"},"legend":{"color":"independent","shape":"independent","fill":"independent","stroke":"independent"}}
 },
 {
  "width":636,"height":45.4,
  "layer":[
   {"data":{"values":[{"label":"KOR Sensitivity"}]},"mark":{"type":"text","fontSize":24,"color":"#1a1a1a","baseline":"middle"},"encoding":{"x":{"datum":0.5126,"type":"quantitative","scale":{"domain":[0,1]},"axis":null},"y":{"datum":0.4956,"type":"quantitative","scale":{"domain":[0,1]},"axis":null},"text":{"field":"label"}}},
   {"data":{"values":[{}]},"mark":{"type":"rule","color":"#444444","strokeWidth":1.5},"encoding":{"x":{"datum":0.0299,"type":"quantitative","scale":{"domain":[0,1]},"axis":null},"x2":{"datum":1},"y":{"datum":0.0859,"type":"quantitative","scale":{"domain":[0,1]},"axis":null}}}
  ]
 },
 {
  "hconcat":[
   {"width":64,"height":1,"data":{"values":[{}]},"mark":"text","encoding":{"text":{"value":""}}},
   {
    "hconcat":[
     {
      "width":210,"height":211,
      "layer":[
       {
        "encoding":{
         "x":{"field":"x","type":"quantitative","scale":{"domain":[0,8],"nice":false,"zero":false},"axis":{"values":[0,2,4,6,8],"title":"Rank Function (Low→High)","titleFontSize":16,"labelFontSize":15,"labelPadding":6.5,"titlePadding":4.6}},
         "y":{"field":"y","type":"quantitative","scale":{"domain":[0,8],"nice":false,"zero":false},"axis":{"values":[0,2,4,6,8],"title":["Rank Gene Expression","(Low→High)"],"titleFontSize":16,"titleLineHeight":20,"labelFontSize":15,"labelPadding":5,"titlePadding":10}}
        },
        "layer":[
         {"data":{"name":"ci"},"transform":[{"filter":"datum.panel=='G'"}],"mark":{"type":"line","interpolate":"monotone","strokeDash":[2,2],"strokeWidth":2,"color":"#9a9a9a"},"encoding":{"detail":{"field":"bound"}}},
         {"data":{"name":"fits"},"transform":[{"filter":"datum.panel=='G'"}],"mark":{"type":"line","strokeWidth":1.5,"color":"#1a1a1a"}},
         {"data":{"name":"rank"},"transform":[{"filter":"datum.panel=='G'"}],"mark":{"type":"point","shape":"triangle-up","size":110,"strokeWidth":2,"filled":false,"opacity":1},"encoding":{"stroke":{"field":"freq","type":"ordinal","scale":{"domain":[1,2,3,4],"range":["#aaaaaa","#7c7c7c","#575757","#3a3a3a"]},"legend":null}}}
        ]
       },
       {"data":{"values":[{}]},"mark":{"type":"rect","color":"#a9a9a9"},"encoding":{"x":{"datum":8.53,"type":"quantitative"},"x2":{"datum":9.03},"y":{"datum":8.19,"type":"quantitative"},"y2":{"datum":6.15}}},
       {"data":{"values":[{}]},"mark":{"type":"rect","color":"#7a7a7a"},"encoding":{"x":{"datum":8.53,"type":"quantitative"},"x2":{"datum":9.03},"y":{"datum":6.15,"type":"quantitative"},"y2":{"datum":4.12}}},
       {"data":{"values":[{}]},"mark":{"type":"rect","color":"#565656"},"encoding":{"x":{"datum":8.53,"type":"quantitative"},"x2":{"datum":9.03},"y":{"datum":4.12,"type":"quantitative"},"y2":{"datum":2.08}}},
       {"data":{"values":[{}]},"mark":{"type":"rect","color":"#373737"},"encoding":{"x":{"datum":8.53,"type":"quantitative"},"x2":{"datum":9.03},"y":{"datum":2.08,"type":"quantitative"},"y2":{"datum":0.04}}},
       {"data":{"values":[{}]},"mark":{"type":"text","align":"left","baseline":"middle","fontSize":14,"color":"#1a1a1a"},"encoding":{"x":{"datum":9.18,"type":"quantitative"},"y":{"datum":7.96,"type":"quantitative"},"text":{"value":"1"}}},
       {"data":{"values":[{}]},"mark":{"type":"text","align":"left","baseline":"middle","fontSize":14,"color":"#1a1a1a"},"encoding":{"x":{"datum":9.18,"type":"quantitative"},"y":{"datum":0.19,"type":"quantitative"},"text":{"value":"4"}}},
       {"data":{"values":[{}]},"mark":{"type":"text","align":"center","baseline":"middle","fontSize":13,"angle":270,"color":"#1a1a1a"},"encoding":{"x":{"datum":9.3,"type":"quantitative"},"y":{"datum":4.3,"type":"quantitative"},"text":{"value":"Frequency"}}},
       {"data":{"values":[{}]},"mark":{"type":"text","align":"left","baseline":"middle","fontSize":16,"lineHeight":19,"color":"#1a1a1a"},"encoding":{"x":{"datum":4.84,"type":"quantitative"},"y":{"datum":1.111,"type":"quantitative"},"text":{"value":["r=0.70","p<0.0001****"]}}},
       {"data":{"values":[{}]},"mark":{"type":"text","align":"left","baseline":"middle","fontSize":28,"fontWeight":"bold","color":"#000000"},"encoding":{"x":{"datum":-2.438,"type":"quantitative"},"y":{"datum":8.925,"type":"quantitative"},"text":{"value":"G"}}}
      ]
     },
     {
      "width":210,"height":211,
      "layer":[
       {
        "encoding":{
         "x":{"field":"x","type":"quantitative","scale":{"domain":[0,8],"nice":false,"zero":false},"axis":{"values":[0,2,4,6,8],"title":"Rank Function (Low→High)","titleFontSize":16,"labelFontSize":15,"labelPadding":6.5,"titlePadding":4.6}},
         "y":{"field":"y","type":"quantitative","scale":{"domain":[0,8],"nice":false,"zero":false},"axis":{"values":[0,2,4,6,8],"title":["Rank Gene Expression","(Low→High)"],"titleFontSize":16,"titleLineHeight":20,"labelFontSize":15,"labelPadding":5,"titlePadding":10}}
        },
        "layer":[
         {"data":{"name":"ci"},"transform":[{"filter":"datum.panel=='H'"}],"mark":{"type":"line","interpolate":"monotone","strokeDash":[2,2],"strokeWidth":2,"color":"#86cfc1"},"encoding":{"detail":{"field":"bound"}}},
         {"data":{"name":"fits"},"transform":[{"filter":"datum.panel=='H'"}],"mark":{"type":"line","strokeWidth":1.5,"color":"#1e9e89"}},
         {"data":{"name":"rank"},"transform":[{"filter":"datum.panel=='H'"}],"mark":{"type":"point","shape":"circle","size":100,"filled":true,"opacity":1},"encoding":{"fill":{"field":"freq","type":"ordinal","scale":{"domain":[1,2,3,4],"range":["#a9ddd4","#7ccabc","#5bbcab","#3aaa97"]},"legend":null}}}
        ]
       },
       {"data":{"values":[{}]},"mark":{"type":"rect","color":"#aadcd4"},"encoding":{"x":{"datum":8.42,"type":"quantitative"},"x2":{"datum":8.95},"y":{"datum":8.19,"type":"quantitative"},"y2":{"datum":6.15}}},
       {"data":{"values":[{}]},"mark":{"type":"rect","color":"#7fcbbe"},"encoding":{"x":{"datum":8.42,"type":"quantitative"},"x2":{"datum":8.95},"y":{"datum":6.15,"type":"quantitative"},"y2":{"datum":4.12}}},
       {"data":{"values":[{}]},"mark":{"type":"rect","color":"#5dbdac"},"encoding":{"x":{"datum":8.42,"type":"quantitative"},"x2":{"datum":8.95},"y":{"datum":4.12,"type":"quantitative"},"y2":{"datum":2.08}}},
       {"data":{"values":[{}]},"mark":{"type":"rect","color":"#3daa97"},"encoding":{"x":{"datum":8.42,"type":"quantitative"},"x2":{"datum":8.95},"y":{"datum":2.08,"type":"quantitative"},"y2":{"datum":0.04}}},
       {"data":{"values":[{}]},"mark":{"type":"text","align":"left","baseline":"middle","fontSize":14,"color":"#1a1a1a"},"encoding":{"x":{"datum":9.1,"type":"quantitative"},"y":{"datum":7.96,"type":"quantitative"},"text":{"value":"1"}}},
       {"data":{"values":[{}]},"mark":{"type":"text","align":"left","baseline":"middle","fontSize":14,"color":"#1a1a1a"},"encoding":{"x":{"datum":9.1,"type":"quantitative"},"y":{"datum":0.19,"type":"quantitative"},"text":{"value":"4"}}},
       {"data":{"values":[{}]},"mark":{"type":"text","align":"center","baseline":"middle","fontSize":13,"angle":270,"color":"#1a1a1a"},"encoding":{"x":{"datum":9.24,"type":"quantitative"},"y":{"datum":4.3,"type":"quantitative"},"text":{"value":"Frequency"}}},
       {"data":{"values":[{}]},"mark":{"type":"text","align":"left","baseline":"middle","fontSize":16,"lineHeight":19,"color":"#1e9e89"},"encoding":{"x":{"datum":0.34,"type":"quantitative"},"y":{"datum":1.111,"type":"quantitative"},"text":{"value":["r=-0.46","p=0.007**"]}}},
       {"data":{"values":[{}]},"mark":{"type":"text","align":"left","baseline":"middle","fontSize":28,"fontWeight":"bold","color":"#000000"},"encoding":{"x":{"datum":-2.63,"type":"quantitative"},"y":{"datum":9.039,"type":"quantitative"},"text":{"value":"H"}}}
      ]
     }
    ],
    "spacing":131,"bounds":"flush",
    "resolve":{"scale":{"x":"independent","y":"independent","color":"independent","shape":"independent","fill":"independent","stroke":"independent"},"legend":{"color":"independent","shape":"independent","fill":"independent","stroke":"independent"}}
   }
  ],
  "spacing":0,"bounds":"flush",
  "resolve":{"scale":{"x":"independent","y":"independent","color":"independent","shape":"independent","fill":"independent","stroke":"independent"},"legend":{"color":"independent","shape":"independent","fill":"independent","stroke":"independent"}}
 }
]
}
